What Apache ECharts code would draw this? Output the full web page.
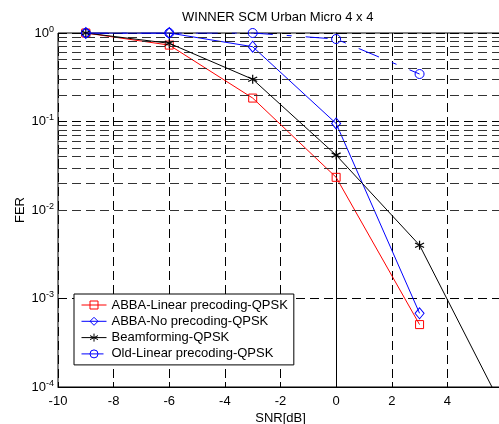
<!DOCTYPE html>
<html><head><meta charset="utf-8">
<script src="https://cdn.jsdelivr.net/npm/echarts@6/dist/echarts.min.js"></script>
<style>html,body{margin:0;padding:0;overflow:hidden;background:#fff;width:499px;height:424px}#c{width:503px;height:424px}</style>
</head><body><div id="c"></div>
<script>
const titleText = 'WINNER SCM Urban Micro 4 x 4';
const xName = 'SNR[dB]';
const yName = 'FER';
const seriesNames = ['ABBA-Linear precoding-QPSK','ABBA-No precoding-QPSK','Beamforming-QPSK','Old-Linear precoding-QPSK'];
const snr = [-9, -6, -3, 0, 3];
const snrBeam = [-9, -6, -3, 0, 3, 6];
const ferLinear = [1.0, 0.73, 0.184, 0.0234, 5.07e-4];
const ferNoPrecoding = [1.0, 1.0, 0.70, 0.095, 6.8e-4];
const ferBeam = [1.0, 0.765, 0.30, 0.0417, 0.0040, 5.7e-5];
const ferOld = [1.0, 1.0, 1.0, 0.855, 0.344];
const xTicks = [-10, -8, -6, -4, -2, 0, 2, 4, 6];
const yDecades = [1e-4, 1e-3, 1e-2, 1e-1, 1];
const yMinor = [];
for (let d = 0; d < yDecades.length - 1; d++) for (let k = 2; k <= 9; k++) yMinor.push(+(yDecades[d] * k).toPrecision(3));

const font = 'Liberation Sans, Arial, sans-serif';
const pair = (xs, ys) => xs.map((x, i) => [x, ys[i]]);
const star = 'path://M5,0L5,10M0.67,2.5L9.33,7.5M0.67,7.5L9.33,2.5';
const gridDash = [9, 5];
const hollow = c => ({color: 'rgba(255,255,255,0)', borderColor: c, borderWidth: 1});

const chart = echarts.init(document.getElementById('c'), null, {renderer: 'canvas'});
chart.setOption({
  animation: false,
  backgroundColor: '#fff',
  textStyle: {fontFamily: font},
  title: {text: titleText, left: 182, top: 11, padding: 0,
    textStyle: {fontSize: 13, fontWeight: 'normal', color: '#000', fontFamily: font}},
  grid: {left: 58, right: 0, top: 33, bottom: 37, show: true, borderColor: '#000', borderWidth: 1,
    backgroundColor: 'transparent', containLabel: false, outerBoundsMode: 'none'},
  legend: {
    orient: 'vertical', left: 74, top: 294, padding: [4, 6, 4, 7],
    backgroundColor: '#fff', borderColor: '#000', borderWidth: 1, borderRadius: 0,
    itemWidth: 25, itemHeight: 10, itemGap: 2.3, itemTextGap: 7,
    itemStyle: {borderWidth: 1},
    lineStyle: {width: 1},
    textStyle: {fontSize: 13, color: '#000', lineHeight: 14, fontFamily: font},
    data: seriesNames
  },
  xAxis: {
    type: 'value', min: xTicks[0], max: xTicks[xTicks.length - 1], interval: 2,
    name: xName, nameLocation: 'middle', nameGap: 25, nameMoveOverlap: false,
    nameTextStyle: {fontSize: 13, color: '#000', fontFamily: font},
    axisLine: {show: true, onZero: false, lineStyle: {color: '#000', width: 1}},
    axisTick: {show: true, inside: true, length: 5, lineStyle: {color: '#000'}},
    axisLabel: {fontSize: 13, color: '#000', margin: 8, showMaxLabel: false, fontFamily: font},
    splitLine: {show: true, lineStyle: {color: '#000', type: gridDash, width: 1}}
  },
  yAxis: {
    type: 'log', logBase: 10, min: yDecades[0], max: yDecades[yDecades.length - 1],
    name: yName, nameLocation: 'middle', nameGap: 31, nameMoveOverlap: false,
    nameTextStyle: {fontSize: 13, color: '#000', fontFamily: font},
    axisLine: {show: true, lineStyle: {color: '#000', width: 1}},
    axisTick: {show: true, inside: true, length: 5, lineStyle: {color: '#000'}},
    axisLabel: {
      margin: 4, color: '#000',
      formatter: v => '{b|10}{s|' + Math.round(Math.log10(v)) + '}',
      rich: {b: {fontSize: 13, color: '#000', fontFamily: font},
             s: {fontSize: 9, color: '#000', fontFamily: font, verticalAlign: 'top', padding: [0, 0, 7, 0]}}
    },
    splitLine: {show: true, lineStyle: {color: '#000', type: gridDash, width: 1}}
  },
  series: [
    {
      name: seriesNames[0], type: 'line', data: pair(snr, ferLinear),
      symbol: 'rect', symbolSize: 8,
      lineStyle: {color: '#ff0000', width: 1}, itemStyle: hollow('#ff0000'),
      markLine: {silent: true, symbol: 'none', label: {show: false}, animation: false,
        lineStyle: {color: '#333', type: gridDash, width: 1},
        data: yMinor.map(v => ({yAxis: v}))},
      z: 3
    },
    {
      name: seriesNames[1], type: 'line', data: pair(snr, ferNoPrecoding),
      symbol: 'diamond', symbolSize: [9, 11],
      lineStyle: {color: '#0000ff', width: 1}, itemStyle: hollow('#0000ff'), z: 4
    },
    {
      name: seriesNames[2], type: 'line', data: pair(snrBeam, ferBeam),
      symbol: star, symbolSize: 9,
      lineStyle: {color: '#000', width: 1}, itemStyle: {color: '#000', borderColor: '#000', borderWidth: 1.2}, z: 5
    },
    {
      name: seriesNames[3], type: 'line', data: pair(snr, ferOld),
      symbol: 'circle', symbolSize: 9,
      lineStyle: {color: '#0000ff', width: 1, type: [22, 14, 5, 14]}, itemStyle: hollow('#0000ff'), z: 6
    }
  ]
});
</script></body></html>
